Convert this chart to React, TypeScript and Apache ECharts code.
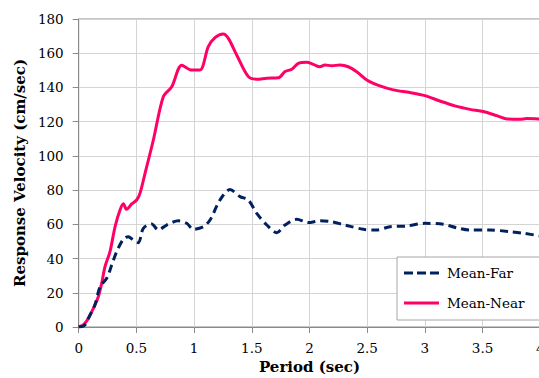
import React, { useEffect, useRef } from "react";
import * as echarts from "echarts";

const nearX = [0, 0.04, 0.083, 0.141, 0.17, 0.199, 0.228, 0.271, 0.315, 0.358, 0.387, 0.415, 0.459, 0.502, 0.531, 0.575, 0.647, 0.733, 0.806, 0.893, 0.979, 1.051, 1.123, 1.181, 1.253, 1.297, 1.369, 1.47, 1.543, 1.63, 1.73, 1.788, 1.846, 1.903, 1.976, 2.033, 2.09, 2.134, 2.192, 2.264, 2.336, 2.409, 2.496, 2.61, 2.726, 2.87, 3.0, 3.13, 3.26, 3.39, 3.506, 3.622, 3.709, 3.824, 3.882, 4.0];
const nearY = [0, 1.2, 5, 12.9, 17.7, 25.5, 35.3, 44, 58.6, 68.4, 72, 68.8, 71.9, 74.2, 78.1, 89.8, 109.3, 134.6, 140.4, 153, 150.2, 150.2, 163.8, 169.1, 171.3, 168.7, 159, 146.3, 144.8, 145.4, 145.6, 149.3, 150.6, 154.1, 154.7, 153.5, 152.1, 153.1, 152.7, 153.1, 152.1, 149.2, 144.4, 140.9, 138.6, 137, 135.2, 132.1, 129.2, 127.2, 125.9, 123.5, 121.6, 121.4, 121.8, 121.6];

const farX = [0, 0.05, 0.083, 0.141, 0.185, 0.243, 0.286, 0.329, 0.387, 0.43, 0.473, 0.517, 0.56, 0.632, 0.69, 0.762, 0.863, 0.936, 0.993, 1.08, 1.138, 1.224, 1.311, 1.398, 1.47, 1.543, 1.63, 1.716, 1.788, 1.889, 1.99, 2.09, 2.192, 2.308, 2.466, 2.58, 2.698, 2.842, 3.0, 3.16, 3.275, 3.39, 3.564, 3.737, 3.853, 4.0];
const farY = [0, 1, 5, 13, 23.6, 28.5, 36.2, 44, 51.3, 52.8, 50.8, 49.3, 57.7, 60.2, 56.7, 59.6, 62.1, 60.6, 57.1, 58.6, 62.5, 74.2, 80.3, 76.2, 74.2, 66.4, 59.6, 55.1, 59.6, 62.9, 61, 62.1, 61.5, 59.6, 57.1, 56.7, 58.6, 59, 60.6, 60, 58, 56.7, 56.7, 55.7, 54.8, 53.2];

const seriesNames = ["Mean-Far", "Mean-Near"];
const xTitle = "Period (sec)";
const yTitle = "Response Velocity (cm/sec)";

const FONT = "DejaVu Serif";
const DASH_ICON = "path://M0,0h9v3h-9z M13,0h9v3h-9z M26,0h9v3h-9z";
const SOLID_ICON = "path://M0,0h35v3h-35z";

export default function App() {
  const ref = useRef<HTMLDivElement>(null);
  useEffect(() => {
    if (!ref.current) return;
    const chart = echarts.init(ref.current, null, { renderer: "svg" });
    const near = nearX.map((x, i) => [x, nearY[i]]);
    const far = farX.map((x, i) => [x, farY[i]]);
    chart.setOption({
      animation: false,
      backgroundColor: "#ffffff",
      textStyle: { fontFamily: FONT },
      grid: {
        left: 78.7,
        top: 19,
        width: 461.6,
        bottom: 51,
        containLabel: false,
        outerBoundsMode: "none",
        show: true,
        borderColor: "#8a8a8a",
        borderWidth: 1,
        backgroundColor: "transparent",
      },
      legend: {
        orient: "vertical",
        left: 397,
        top: 257,
        data: [
          { name: seriesNames[0], icon: DASH_ICON, itemStyle: { color: "#00215f" } },
          { name: seriesNames[1], icon: SOLID_ICON, itemStyle: { color: "#ff0066" } },
        ],
        backgroundColor: "#ffffff",
        borderColor: "#a6a6a6",
        borderWidth: 1,
        borderRadius: 0,
        padding: [7, 16, 8, 7],
        itemWidth: 35,
        itemHeight: 3,
        itemGap: 12,
        textStyle: { fontFamily: FONT, fontSize: 13.5, color: "#000", lineHeight: 18, padding: [0, 0, 0, 3] },
      },
      xAxis: {
        type: "value",
        min: 0,
        max: 4,
        interval: 0.5,
        name: xTitle,
        nameLocation: "middle",
        nameGap: 31,
        nameTextStyle: { fontFamily: FONT, fontSize: 15, fontWeight: "bold", color: "#000" },
        axisLine: { show: true, lineStyle: { color: "#8a8a8a", width: 1 } },
        axisTick: { show: true, length: 6, lineStyle: { color: "#8a8a8a" } },
        axisLabel: { fontFamily: FONT, fontSize: 13.5, color: "#000", margin: 14 },
        splitLine: { show: true, lineStyle: { color: "#d4d4d4", width: 1 } },
      },
      yAxis: {
        type: "value",
        min: 0,
        max: 180,
        interval: 20,
        name: yTitle,
        nameLocation: "middle",
        nameGap: 46,
        nameTextStyle: { fontFamily: FONT, fontSize: 15, fontWeight: "bold", color: "#000" },
        axisLine: { show: true, lineStyle: { color: "#8a8a8a", width: 1 } },
        axisTick: { show: true, length: 6, lineStyle: { color: "#8a8a8a" } },
        axisLabel: { fontFamily: FONT, fontSize: 13.5, color: "#000", margin: 15 },
        splitLine: { show: true, lineStyle: { color: "#d4d4d4", width: 1 } },
      },
      series: [
        {
          name: seriesNames[0],
          type: "line",
          data: far,
          smooth: 0.3,
          symbol: "none",
          showSymbol: false,
          z: 3,
          itemStyle: { color: "#00215f" },
          lineStyle: { color: "#00215f", width: 3, type: [8, 5] },
        },
        {
          name: seriesNames[1],
          type: "line",
          data: near,
          smooth: 0.3,
          symbol: "none",
          showSymbol: false,
          z: 2,
          itemStyle: { color: "#ff0066" },
          lineStyle: { color: "#ff0066", width: 3 },
        },
      ],
    });
    return () => chart.dispose();
  }, []);
  return (
    <div style={{ position: "fixed", left: 0, top: 0, width: 539, height: 378, overflow: "hidden", background: "#fff" }}>
      <div ref={ref} style={{ width: 560, height: 378 }} />
    </div>
  );
}
